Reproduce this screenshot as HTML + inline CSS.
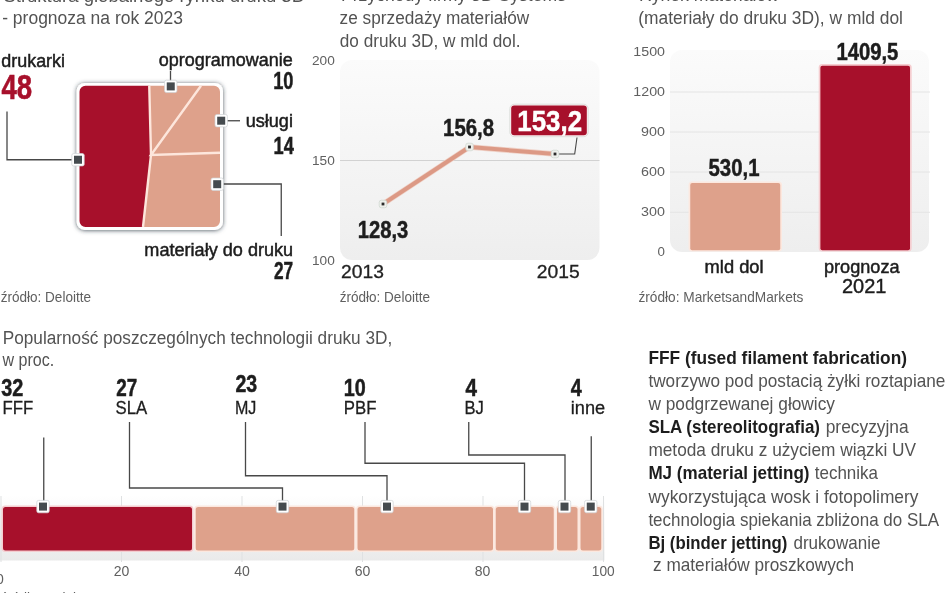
<!DOCTYPE html>
<html lang="pl"><head><meta charset="utf-8"><title>Druk 3D - infografika</title>
<style>
html,body{margin:0;padding:0;background:#fff;}
body{width:948px;height:593px;overflow:hidden;}
svg{display:block;font-family:"Liberation Sans",sans-serif;}
</style></head><body>
<svg width="948" height="593" viewBox="0 0 948 593">
<defs>
<linearGradient id="g1" x1="0" y1="0" x2="0" y2="1"><stop offset="0" stop-color="#fbfbfb"/><stop offset="1" stop-color="#eeeeee"/></linearGradient>
<linearGradient id="g2" x1="0" y1="0" x2="0" y2="1"><stop offset="0" stop-color="#ffffff"/><stop offset="0.25" stop-color="#f8f8f8"/><stop offset="1" stop-color="#eaeaea"/></linearGradient>
<filter id="sh" x="-10%" y="-10%" width="120%" height="120%"><feDropShadow dx="0" dy="0.5" stdDeviation="2" flood-color="#26343c" flood-opacity="0.8"/></filter>
</defs>
<rect width="948" height="593" fill="#fff"/>
<text x="3.40" y="1.7" font-size="18" fill="#535353" textLength="301.62" lengthAdjust="spacingAndGlyphs">Struktura globalnego rynku druku 3D</text>
<text x="2.20" y="23.9" font-size="18" fill="#535353" textLength="180.78" lengthAdjust="spacingAndGlyphs">- prognoza na rok 2023</text>
<text x="1.30" y="66.6" font-size="18.7" stroke="#1d1d1d" stroke-width="0.5" fill="#1d1d1d" textLength="63.71" lengthAdjust="spacingAndGlyphs">drukarki</text>
<text x="1.50" y="99.3" font-size="35.5" font-weight="700" stroke="#a7102b" stroke-width="0.6" fill="#a7102b" textLength="30.69" lengthAdjust="spacingAndGlyphs">48</text>
<text x="158.75" y="66.4" font-size="18.7" stroke="#1d1d1d" stroke-width="0.5" fill="#1d1d1d" textLength="133.94" lengthAdjust="spacingAndGlyphs">oprogramowanie</text>
<text x="273.20" y="89.3" font-size="24.5" font-weight="700" stroke="#1d1d1d" stroke-width="0.5" fill="#1d1d1d" textLength="20.30" lengthAdjust="spacingAndGlyphs">10</text>
<text x="245.70" y="126.7" font-size="18.7" stroke="#1d1d1d" stroke-width="0.5" fill="#1d1d1d" textLength="47.21" lengthAdjust="spacingAndGlyphs">usługi</text>
<text x="273.50" y="153.7" font-size="24.5" font-weight="700" stroke="#1d1d1d" stroke-width="0.5" fill="#1d1d1d" textLength="20.30" lengthAdjust="spacingAndGlyphs">14</text>
<text x="144.35" y="256.2" font-size="18.7" stroke="#1d1d1d" stroke-width="0.5" fill="#1d1d1d" textLength="148.83" lengthAdjust="spacingAndGlyphs">materiały do druku</text>
<text x="274.00" y="278.8" font-size="24.5" font-weight="700" stroke="#1d1d1d" stroke-width="0.5" fill="#1d1d1d" textLength="19.20" lengthAdjust="spacingAndGlyphs">27</text>
<text x="0.70" y="302.3" font-size="15" fill="#606060" textLength="90.30" lengthAdjust="spacingAndGlyphs">źródło: Deloitte</text>
<rect x="76.6" y="82.9" width="146.4" height="147" rx="8" fill="#fff" filter="url(#sh)"/>
<path d="M85.5,85.75 H149.25 L151,155 L143,227 H85.5 a6,6 0 0 1 -6,-6 V91.75 a6,6 0 0 1 6,-6 z" fill="#a7102b"/>
<path d="M149.25,85.75 H214 a6,6 0 0 1 6,6 V221 a6,6 0 0 1 -6,6 H143 L151,155 z" fill="#dea18b"/>
<polyline points="149.25,85.75 151,155 143,227" fill="none" stroke="#fde6dc" stroke-width="2.4"/>
<polyline points="201,85.75 151,155 220,152.75" fill="none" stroke="#fde6dc" stroke-width="2.4"/>
<polyline points="7,111.5 7,159.75 74,159.75" fill="none" stroke="#484848" stroke-width="1.3"/>
<polyline points="170.5,71 170.5,82" fill="none" stroke="#484848" stroke-width="1.3"/>
<polyline points="225,120.75 240,120.75" fill="none" stroke="#484848" stroke-width="1.3"/>
<polyline points="221,184 281.25,184 281.25,236" fill="none" stroke="#484848" stroke-width="1.3"/>
<rect x="164.55" y="80.2" width="12.4" height="12.4" rx="1.8" fill="#fff" stroke="#cfd3d5" stroke-width="0.7"/>
<rect x="166.75" y="82.4" width="8" height="8" fill="#454b4f"/>
<rect x="215.0" y="114.5" width="12.4" height="12.4" rx="1.8" fill="#fff" stroke="#cfd3d5" stroke-width="0.7"/>
<rect x="217.2" y="116.7" width="8" height="8" fill="#454b4f"/>
<rect x="71.8" y="153.55" width="12.4" height="12.4" rx="1.8" fill="#fff" stroke="#cfd3d5" stroke-width="0.7"/>
<rect x="74.0" y="155.75" width="8" height="8" fill="#454b4f"/>
<rect x="211.0" y="178.0" width="12.4" height="12.4" rx="1.8" fill="#fff" stroke="#cfd3d5" stroke-width="0.7"/>
<rect x="213.2" y="180.2" width="8" height="8" fill="#454b4f"/>
<text x="341.00" y="1.4" font-size="18" fill="#535353" textLength="225.00" lengthAdjust="spacingAndGlyphs">Przychody firmy 3D Systems</text>
<text x="339.60" y="23.6" font-size="18" fill="#535353" textLength="189.63" lengthAdjust="spacingAndGlyphs">ze sprzedaży materiałów</text>
<text x="339.80" y="46.7" font-size="18" fill="#535353" textLength="180.69" lengthAdjust="spacingAndGlyphs">do druku 3D, w mld dol.</text>
<text x="312.00" y="65.3" font-size="13.6" fill="#606060" textLength="22.79" lengthAdjust="spacingAndGlyphs">200</text>
<text x="312.00" y="165.3" font-size="13.6" fill="#606060" textLength="22.79" lengthAdjust="spacingAndGlyphs">150</text>
<text x="312.00" y="265.3" font-size="13.6" fill="#606060" textLength="22.79" lengthAdjust="spacingAndGlyphs">100</text>
<rect x="340" y="60" width="259.5" height="200" rx="12" fill="url(#g1)"/>
<polyline points="340,160.5 599.5,160.5" fill="none" stroke="#d2d2d2" stroke-width="1"/>
<polyline points="383,204 469.5,147 555,154" fill="none" stroke="#efd2c8" stroke-width="5.6" stroke-linejoin="round"/>
<polyline points="383,204 469.5,147 555,154" fill="none" stroke="#dc9985" stroke-width="4" stroke-linejoin="round"/>
<polyline points="559,154 574.7,154 577,137.5" fill="none" stroke="#484848" stroke-width="1.1"/>
<rect x="379.2" y="200.2" width="7.6" height="7.6" rx="2.2" fill="#eef0ec" stroke="#cdd6cf" stroke-width="0.7"/>
<rect x="381.6" y="202.6" width="2.8" height="2.8" fill="#2c2c2c"/>
<rect x="465.7" y="143.2" width="7.6" height="7.6" rx="2.2" fill="#eef0ec" stroke="#cdd6cf" stroke-width="0.7"/>
<rect x="468.1" y="145.6" width="2.8" height="2.8" fill="#2c2c2c"/>
<rect x="551.2" y="150.2" width="7.6" height="7.6" rx="2.2" fill="#eef0ec" stroke="#cdd6cf" stroke-width="0.7"/>
<rect x="553.6" y="152.6" width="2.8" height="2.8" fill="#2c2c2c"/>
<text x="357.75" y="237.6" font-size="24.5" font-weight="700" stroke="#1d1d1d" stroke-width="0.5" fill="#1d1d1d" textLength="50.56" lengthAdjust="spacingAndGlyphs">128,3</text>
<text x="443.10" y="135.6" font-size="24.5" font-weight="700" stroke="#1d1d1d" stroke-width="0.5" fill="#1d1d1d" textLength="51.01" lengthAdjust="spacingAndGlyphs">156,8</text>
<rect x="509.8" y="104.2" width="78.4" height="32.5" rx="4.5" fill="#fbeef0" stroke="#d3dad6" stroke-width="0.7"/>
<rect x="511.2" y="105.6" width="75.6" height="29.6" rx="3" fill="#a7102b"/>
<text x="517.30" y="130.8" font-size="30.4" font-weight="700" stroke="#fff" stroke-width="0.5" fill="#fff" textLength="64.72" lengthAdjust="spacingAndGlyphs">153,2</text>
<text x="341.00" y="278.1" font-size="18.4" stroke="#222" stroke-width="0.3" fill="#222" textLength="42.88" lengthAdjust="spacingAndGlyphs">2013</text>
<text x="536.80" y="278.1" font-size="18.4" stroke="#222" stroke-width="0.3" fill="#222" textLength="42.88" lengthAdjust="spacingAndGlyphs">2015</text>
<text x="339.70" y="302.3" font-size="15" fill="#606060" textLength="90.30" lengthAdjust="spacingAndGlyphs">źródło: Deloitte</text>
<text x="639.00" y="1.4" font-size="18" fill="#535353" textLength="139.95" lengthAdjust="spacingAndGlyphs">Rynek materiałów</text>
<text x="638.20" y="23.6" font-size="18" fill="#535353" textLength="264.80" lengthAdjust="spacingAndGlyphs">(materiały do druku 3D), w mld dol</text>
<rect x="670" y="50" width="259" height="202" rx="12" fill="url(#g1)"/>
<polyline points="670,92.0 930,92.0" fill="none" stroke="#e4e4e4" stroke-width="1"/>
<polyline points="670,132.0 930,132.0" fill="none" stroke="#e4e4e4" stroke-width="1"/>
<polyline points="670,172.0 930,172.0" fill="none" stroke="#e4e4e4" stroke-width="1"/>
<polyline points="670,212.25 930,212.25" fill="none" stroke="#e4e4e4" stroke-width="1"/>
<text x="633.35" y="56.25" font-size="13.6" fill="#606060" textLength="31.66" lengthAdjust="spacingAndGlyphs">1500</text>
<text x="633.35" y="96.25" font-size="13.6" fill="#606060" textLength="31.66" lengthAdjust="spacingAndGlyphs">1200</text>
<text x="641.10" y="136.25" font-size="13.6" fill="#606060" textLength="23.89" lengthAdjust="spacingAndGlyphs">900</text>
<text x="641.10" y="176.25" font-size="13.6" fill="#606060" textLength="23.89" lengthAdjust="spacingAndGlyphs">600</text>
<text x="641.10" y="216.25" font-size="13.6" fill="#606060" textLength="23.89" lengthAdjust="spacingAndGlyphs">300</text>
<text x="657.60" y="256" font-size="13.6" fill="#606060" textLength="7.41" lengthAdjust="spacingAndGlyphs">0</text>
<rect x="688.6" y="181.6" width="93.4" height="70.0" rx="3.5" fill="#fce8df"/>
<rect x="690.25" y="183.1" width="90.0" height="67.15" rx="2" fill="#dea18b"/>
<rect x="818.7" y="64" width="93.0" height="187.6" rx="3.5" fill="#f5cdd0"/>
<rect x="820.4" y="65.7" width="89.6" height="184.55" rx="2" fill="#a7102b"/>
<text x="708.50" y="176.1" font-size="24.5" font-weight="700" stroke="#1d1d1d" stroke-width="0.5" fill="#1d1d1d" textLength="51.01" lengthAdjust="spacingAndGlyphs">530,1</text>
<text x="836.40" y="59.8" font-size="24.5" font-weight="700" stroke="#1d1d1d" stroke-width="0.5" fill="#1d1d1d" textLength="61.99" lengthAdjust="spacingAndGlyphs">1409,5</text>
<text x="704.60" y="273" font-size="18.7" stroke="#1d1d1d" stroke-width="0.5" fill="#1d1d1d" textLength="58.98" lengthAdjust="spacingAndGlyphs">mld dol</text>
<text x="824.00" y="273.1" font-size="18.7" stroke="#1d1d1d" stroke-width="0.5" fill="#1d1d1d" textLength="75.58" lengthAdjust="spacingAndGlyphs">prognoza</text>
<text x="842.00" y="292.9" font-size="19.5" stroke="#1d1d1d" stroke-width="0.4" fill="#1d1d1d" textLength="44.48" lengthAdjust="spacingAndGlyphs">2021</text>
<text x="638.40" y="302.1" font-size="15" fill="#606060" textLength="165.00" lengthAdjust="spacingAndGlyphs">źródło: MarketsandMarkets</text>
<text x="2.70" y="343.6" font-size="17.6" fill="#535353" textLength="389.59" lengthAdjust="spacingAndGlyphs">Popularność poszczególnych technologii druku 3D,</text>
<text x="2.55" y="366.1" font-size="17.6" fill="#535353" textLength="51.73" lengthAdjust="spacingAndGlyphs">w proc.</text>
<text x="1.30" y="395.6" font-size="23.6" font-weight="700" stroke="#1d1d1d" stroke-width="0.5" fill="#1d1d1d" textLength="22.10" lengthAdjust="spacingAndGlyphs">32</text>
<text x="116.25" y="395.6" font-size="23.6" font-weight="700" stroke="#1d1d1d" stroke-width="0.5" fill="#1d1d1d" textLength="20.95" lengthAdjust="spacingAndGlyphs">27</text>
<text x="235.50" y="392" font-size="23.6" font-weight="700" stroke="#1d1d1d" stroke-width="0.5" fill="#1d1d1d" textLength="21.70" lengthAdjust="spacingAndGlyphs">23</text>
<text x="343.75" y="395.6" font-size="23.6" font-weight="700" stroke="#1d1d1d" stroke-width="0.5" fill="#1d1d1d" textLength="21.95" lengthAdjust="spacingAndGlyphs">10</text>
<text x="465.50" y="395.6" font-size="23.6" font-weight="700" stroke="#1d1d1d" stroke-width="0.5" fill="#1d1d1d" textLength="11.48" lengthAdjust="spacingAndGlyphs">4</text>
<text x="570.75" y="395.6" font-size="23.6" font-weight="700" stroke="#1d1d1d" stroke-width="0.5" fill="#1d1d1d" textLength="10.98" lengthAdjust="spacingAndGlyphs">4</text>
<text x="2.50" y="414.1" font-size="18.8" stroke="#1d1d1d" stroke-width="0.3" fill="#1d1d1d" textLength="30.80" lengthAdjust="spacingAndGlyphs">FFF</text>
<text x="115.50" y="414.1" font-size="18.8" stroke="#1d1d1d" stroke-width="0.3" fill="#1d1d1d" textLength="31.69" lengthAdjust="spacingAndGlyphs">SLA</text>
<text x="235.00" y="414.1" font-size="18.8" stroke="#1d1d1d" stroke-width="0.3" fill="#1d1d1d" textLength="21.41" lengthAdjust="spacingAndGlyphs">MJ</text>
<text x="343.75" y="414.1" font-size="18.8" stroke="#1d1d1d" stroke-width="0.3" fill="#1d1d1d" textLength="32.66" lengthAdjust="spacingAndGlyphs">PBF</text>
<text x="464.50" y="414.2" font-size="18.8" stroke="#1d1d1d" stroke-width="0.3" fill="#1d1d1d" textLength="19.39" lengthAdjust="spacingAndGlyphs">BJ</text>
<text x="570.75" y="414.2" font-size="18.8" stroke="#1d1d1d" stroke-width="0.3" fill="#1d1d1d" textLength="34.44" lengthAdjust="spacingAndGlyphs">inne</text>
<rect x="0" y="496" width="604.5" height="64.5" rx="0" fill="url(#g2)"/>
<polyline points="1,496 1,562" fill="none" stroke="#dfe1e2" stroke-width="1"/>
<polyline points="121.5,496 121.5,562" fill="none" stroke="#dfe1e2" stroke-width="1"/>
<polyline points="242,496 242,562" fill="none" stroke="#dfe1e2" stroke-width="1"/>
<polyline points="362.5,496 362.5,562" fill="none" stroke="#dfe1e2" stroke-width="1"/>
<polyline points="483,496 483,562" fill="none" stroke="#dfe1e2" stroke-width="1"/>
<polyline points="603.5,496 603.5,562" fill="none" stroke="#dfe1e2" stroke-width="1"/>
<rect x="1.5" y="505.5" width="192.0" height="46.5" rx="3.8" fill="#f5cdd0"/>
<rect x="3" y="507" width="189" height="43.5" rx="2.5" fill="#a7102b"/>
<rect x="194.2" y="505.5" width="161.55" height="46.5" rx="3.8" fill="#fce8df"/>
<rect x="195.7" y="507" width="158.55" height="43.5" rx="2.5" fill="#dea18b"/>
<rect x="356.0" y="505.5" width="138.5" height="46.5" rx="3.8" fill="#fce8df"/>
<rect x="357.5" y="507" width="135.5" height="43.5" rx="2.5" fill="#dea18b"/>
<rect x="494.25" y="505.5" width="61.0" height="46.5" rx="3.8" fill="#fce8df"/>
<rect x="495.75" y="507" width="58.0" height="43.5" rx="2.5" fill="#dea18b"/>
<rect x="555.5" y="505.5" width="23.5" height="46.5" rx="3.8" fill="#fce8df"/>
<rect x="557" y="507" width="20.5" height="43.5" rx="2.5" fill="#dea18b"/>
<rect x="579.0" y="505.5" width="23.75" height="46.5" rx="3.8" fill="#fce8df"/>
<rect x="580.5" y="507" width="20.75" height="43.5" rx="2.5" fill="#dea18b"/>
<polyline points="43.75,437.5 43.75,503" fill="none" stroke="#484848" stroke-width="1.3"/>
<polyline points="129.5,422 129.5,488 282.5,488 282.5,503" fill="none" stroke="#484848" stroke-width="1.3"/>
<polyline points="245.5,422 245.5,475.75 387,475.75 387,503" fill="none" stroke="#484848" stroke-width="1.3"/>
<polyline points="365,422 365,463.25 524.5,463.25 524.5,503" fill="none" stroke="#484848" stroke-width="1.3"/>
<polyline points="468.75,422 468.75,455 565,455 565,503" fill="none" stroke="#484848" stroke-width="1.3"/>
<polyline points="591.25,436.25 591.25,503" fill="none" stroke="#484848" stroke-width="1.3"/>
<rect x="36.8" y="500.40000000000003" width="12.4" height="12.4" rx="1.8" fill="#fff" stroke="#cfd3d5" stroke-width="0.7"/>
<rect x="39.0" y="502.6" width="8" height="8" fill="#454b4f"/>
<rect x="276.3" y="500.40000000000003" width="12.4" height="12.4" rx="1.8" fill="#fff" stroke="#cfd3d5" stroke-width="0.7"/>
<rect x="278.5" y="502.6" width="8" height="8" fill="#454b4f"/>
<rect x="380.8" y="500.40000000000003" width="12.4" height="12.4" rx="1.8" fill="#fff" stroke="#cfd3d5" stroke-width="0.7"/>
<rect x="383.0" y="502.6" width="8" height="8" fill="#454b4f"/>
<rect x="518.3" y="500.40000000000003" width="12.4" height="12.4" rx="1.8" fill="#fff" stroke="#cfd3d5" stroke-width="0.7"/>
<rect x="520.5" y="502.6" width="8" height="8" fill="#454b4f"/>
<rect x="558.3" y="500.40000000000003" width="12.4" height="12.4" rx="1.8" fill="#fff" stroke="#cfd3d5" stroke-width="0.7"/>
<rect x="560.5" y="502.6" width="8" height="8" fill="#454b4f"/>
<rect x="584.55" y="500.40000000000003" width="12.4" height="12.4" rx="1.8" fill="#fff" stroke="#cfd3d5" stroke-width="0.7"/>
<rect x="586.75" y="502.6" width="8" height="8" fill="#454b4f"/>
<text x="113.70" y="575.8" font-size="14.3" fill="#606060" textLength="15.61" lengthAdjust="spacingAndGlyphs">20</text>
<text x="234.20" y="575.8" font-size="14.3" fill="#606060" textLength="15.61" lengthAdjust="spacingAndGlyphs">40</text>
<text x="354.70" y="575.8" font-size="14.3" fill="#606060" textLength="15.61" lengthAdjust="spacingAndGlyphs">60</text>
<text x="474.70" y="575.8" font-size="14.3" fill="#606060" textLength="15.61" lengthAdjust="spacingAndGlyphs">80</text>
<text x="591.80" y="575.8" font-size="14.3" fill="#606060" textLength="22.91" lengthAdjust="spacingAndGlyphs">100</text>
<text x="-4.10" y="584.4" font-size="14.3" fill="#606060" textLength="7.80" lengthAdjust="spacingAndGlyphs">0</text>
<text x="0.70" y="603" font-size="15" fill="#606060" textLength="90.30" lengthAdjust="spacingAndGlyphs">źródło: Deloitte</text>
<text x="648.40" y="364" font-size="18.2" font-weight="700" fill="#1d1d1d" textLength="258.59" lengthAdjust="spacingAndGlyphs">FFF (fused filament fabrication)</text>
<text x="648.40" y="387.1" font-size="18.2" fill="#535353" textLength="297.01" lengthAdjust="spacingAndGlyphs">tworzywo pod postacią żyłki roztapiane</text>
<text x="648.45" y="410.4" font-size="18.2" fill="#535353" textLength="186.56" lengthAdjust="spacingAndGlyphs">w podgrzewanej głowicy</text>
<text x="648.40" y="433.3" font-size="18.2" font-weight="700" fill="#1d1d1d" textLength="171.58" lengthAdjust="spacingAndGlyphs">SLA (stereolitografia)</text>
<text x="825.70" y="433.3" font-size="18.2" fill="#535353" textLength="82.99" lengthAdjust="spacingAndGlyphs">precyzyjna</text>
<text x="648.40" y="456.3" font-size="18.2" fill="#535353" textLength="267.60" lengthAdjust="spacingAndGlyphs">metoda druku z użyciem wiązki UV</text>
<text x="648.40" y="479.3" font-size="18.2" font-weight="700" fill="#1d1d1d" textLength="161.11" lengthAdjust="spacingAndGlyphs">MJ (material jetting)</text>
<text x="814.75" y="479.3" font-size="18.2" fill="#535353" textLength="63.24" lengthAdjust="spacingAndGlyphs">technika</text>
<text x="648.45" y="502.5" font-size="18.2" fill="#535353" textLength="270.05" lengthAdjust="spacingAndGlyphs">wykorzystująca wosk i fotopolimery</text>
<text x="648.40" y="526" font-size="18.2" fill="#535353" textLength="290.59" lengthAdjust="spacingAndGlyphs">technologia spiekania zbliżona do SLA</text>
<text x="648.40" y="548.8" font-size="18.2" font-weight="700" fill="#1d1d1d" textLength="138.84" lengthAdjust="spacingAndGlyphs">Bj (binder jetting)</text>
<text x="793.50" y="548.8" font-size="18.2" fill="#535353" textLength="86.98" lengthAdjust="spacingAndGlyphs">drukowanie</text>
<text x="653.00" y="571.3" font-size="18.2" fill="#535353" textLength="201.00" lengthAdjust="spacingAndGlyphs">z materiałów proszkowych</text>
</svg>
</body></html>
